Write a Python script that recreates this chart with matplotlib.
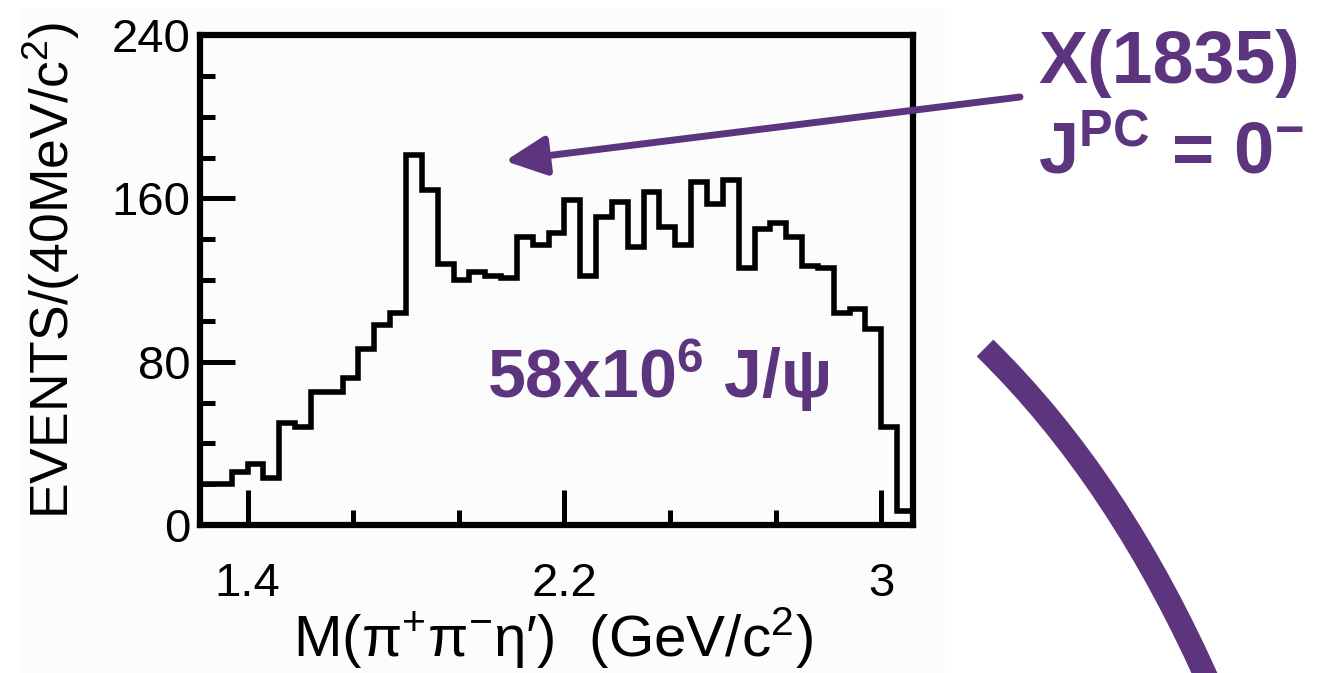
import numpy as np
import matplotlib
matplotlib.use("Agg")
import matplotlib.pyplot as plt
from matplotlib.patches import FancyArrowPatch, PathPatch, Rectangle
from matplotlib.path import Path

# histogram contents, events per 40 MeV/c^2 bin starting at 1.28 GeV/c^2
counts = [20, 20, 26, 30, 23, 50, 48, 65, 65, 72,
          86, 98, 104, 181, 164, 128, 120, 124, 122, 121,
          141, 137, 143, 159, 122, 151, 158, 136, 163, 146,
          137, 168, 157, 169, 126, 145, 148, 141, 127, 126,
          104, 106, 96, 48, 7]
m_lo = 1.28
bin_w = 0.04
x_major = [1.4, 2.2, 3.0]
x_minor = [1.4 + 0.8 / 3, 1.4 + 1.6 / 3, 2.2 + 0.8 / 3, 2.2 + 1.6 / 3]
y_major = [0, 80, 160, 240]
y_minor = [20, 40, 60, 100, 120, 140, 180, 200, 220]
x_label = "M(π$^{+}$π$^{-}$η′)  (GeV/c$^{2}$)"
y_label = "EVENTS/(40MeV/c$^{2}$)"

purple = "#5d357f"

plt.rcParams["font.family"] = ["Liberation Sans", "DejaVu Sans"]
plt.rcParams["mathtext.fontset"] = "custom"
plt.rcParams["mathtext.rm"] = "Liberation Sans"
plt.rcParams["mathtext.it"] = "Liberation Sans:italic"
plt.rcParams["mathtext.bf"] = "Liberation Sans:bold"

W, H = 1331, 673
fig = plt.figure(figsize=(W / 100, H / 100), dpi=100)

def fx(px):
  return px / W

def fy(py):
  return 1 - py / H

# faint backdrop of the pasted plot image
fig.add_artist(Rectangle((fx(20), 0), fx(925), fy(8), transform=fig.transFigure,
                         facecolor="#fcfcfc", edgecolor="none", zorder=-5))

ax = fig.add_axes([fx(200), fy(525), fx(713), 490 / H])
ax.patch.set_alpha(0)

edges = m_lo + bin_w * np.arange(len(counts) + 1)
ax.stairs(counts, edges, baseline=0, color="black", linewidth=4.0)

ax.set_xlim(edges[0], edges[-1])
ax.set_ylim(0, 240)
for s in ax.spines.values():
  s.set_linewidth(4.5)

ax.set_xticks(x_major)
ax.set_xticklabels(["1.4", "2.2", "3"])
ax.set_xticks(x_minor, minor=True)
ax.set_yticks(y_major)
ax.set_yticks(y_minor, minor=True)
ax.tick_params(which="both", direction="in", top=False, right=False, width=3.6)
ax.tick_params(which="major", length=25, labelsize=34)
ax.tick_params(which="minor", length=11)
ax.tick_params(axis="x", which="major", pad=27)
ax.tick_params(axis="y", which="major", pad=7)

ax.set_xlabel(x_label, fontsize=42)
ax.xaxis.set_label_coords(0.495, -0.163)
ax.set_ylabel(y_label, fontsize=38.5)
ax.yaxis.set_label_coords(-0.166, 0.52)

# annotations
fig.text(fx(1038), fy(83), "X(1835)", color=purple, fontsize=53,
         fontweight="bold", ha="left", va="baseline")
fig.text(fx(1038), fy(173), r"J$^{\mathbf{PC}}$ = 0$^{\mathbf{-}}$", color=purple,
         fontsize=52, fontweight="bold", ha="left", va="baseline")
fig.text(fx(487), fy(398), r"58x10$^{\mathbf{6}}$ J/ψ", color=purple,
         fontsize=49, fontweight="bold", ha="left", va="baseline")

arrow = FancyArrowPatch((fx(1020), fy(97)), (fx(505), fy(161)),
                        transform=fig.transFigure,
                        arrowstyle="-|>,head_length=2.5,head_width=1.2",
                        mutation_scale=10, lw=5, color=purple,
                        shrinkA=0, shrinkB=0)
fig.add_artist(arrow)

arc = Path([(fx(985), fy(348)), (fx(1120), fy(480)), (fx(1212), fy(690))],
           [Path.MOVETO, Path.CURVE3, Path.CURVE3])
fig.add_artist(PathPatch(arc, transform=fig.transFigure, fill=False,
                         lw=17, edgecolor=purple, capstyle="butt"))

fig.savefig("out.png", dpi=100)
